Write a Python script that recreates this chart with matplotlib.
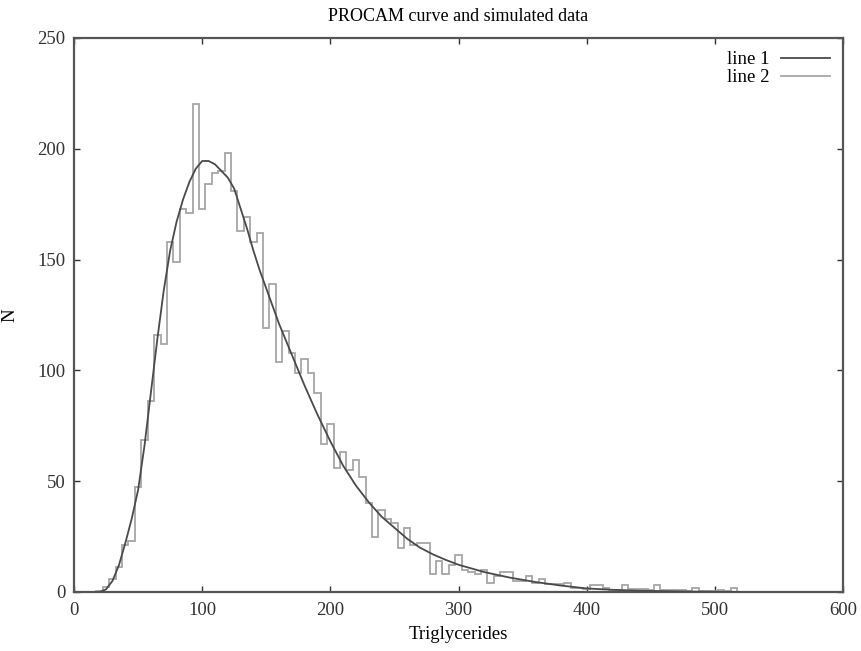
import numpy as np

import matplotlib
matplotlib.use('Agg')
import matplotlib.pyplot as plt

plt.rcParams['font.family'] = ['Liberation Serif', 'DejaVu Serif']

# simulated data, 5-unit bins centred on multiples of 5
bin_centres = np.arange(20, 525, 5)
counts = [
    0.5, 2.4, 6, 11.4, 21, 23, 47.5, 68.6, 86, 116,          # 20-65
    112, 158, 149, 173, 171, 220, 173, 184, 189, 190,        # 70-115
    198, 181, 163, 169, 158, 162, 119, 139, 104, 118,        # 120-165
    108, 99, 105, 99, 90, 67, 76, 56, 63, 55,                # 170-215
    59.5, 52, 40, 25, 37, 33, 31, 20, 29, 21,                # 220-265
    22, 22, 8, 14, 8, 12, 16.6, 10, 9, 8,                    # 270-315
    10, 4, 7, 9, 9, 5, 5, 7, 4, 6,                           # 320-365
    3.4, 3.4, 3.4, 4, 2, 2, 1.2, 3, 3, 2,                    # 370-415
    1, 1, 3, 1.5, 1.5, 1.5, 1, 3, 1, 1,                      # 420-465
    1, 1, 0.5, 2, 0.5, 0.5, 0.5, 1, 0.3, 2,                  # 470-515
    0,                                                       # 520
]

# PROCAM curve
curve_x = [20, 25, 30, 35, 40, 45, 50, 55, 60, 65, 70, 75, 80, 85, 90, 95,
           100, 105, 110, 115, 120, 125, 130, 135, 140, 145, 150, 160, 170,
           180, 190, 200, 210, 220, 230, 240, 250, 260, 270, 280, 290, 300,
           320, 340, 360, 380, 400, 420, 440, 460, 480, 500, 520]
curve_y = [0, 1.2, 5, 12, 22, 33, 46, 66, 90, 114, 136, 154, 167, 177, 185,
           191, 194.5, 194.5, 193, 190, 187, 182, 173, 164, 154, 145, 137,
           121, 107, 93, 80, 68, 57, 48, 40.5, 34, 29, 24, 20, 17, 14.5,
           12.3, 9, 6.5, 4.5, 2.9, 1.6, 1.0, 0.6, 0.4, 0.2, 0.1, 0]

bin_edges = np.append(bin_centres - 2.5, bin_centres[-1] + 2.5)

fig = plt.figure(figsize=(8.62, 6.51), dpi=100)
ax = fig.add_axes([74/862, 59/651, 769/862, 554/651])

ax.plot(curve_x, curve_y, color='#4a4a4a', lw=1.3, label='line 1', zorder=3)
ax.stairs(counts, bin_edges, baseline=0, color='#a6a6a6', lw=1.3,
          label='line 2', zorder=2)

ax.set_xlim(0, 600)
ax.set_ylim(0, 250)
ax.set_xticks(range(0, 601, 100))
ax.set_yticks(range(0, 251, 50))
ax.tick_params(direction='in', length=4, width=1, colors='#333333',
               top=True, right=True, labelsize=13.5)
ax.tick_params(axis='x', pad=7)
ax.tick_params(axis='y', pad=6)
for sp in ax.spines.values():
    sp.set_color('#555555')
    sp.set_linewidth(1.6)

ax.set_title('PROCAM curve and simulated data', fontsize=13, pad=12)
ax.set_xlabel('Triglycerides', fontsize=13.5, labelpad=5)
ax.set_ylabel('N', fontsize=13.5, labelpad=14)

ax.legend(loc='upper right', frameon=False, markerfirst=False,
          fontsize=13.5, handlelength=2.6, handletextpad=0.6,
          borderaxespad=0.3, labelspacing=0.05)

fig.savefig('out.png', dpi=100)
plt.close(fig)
